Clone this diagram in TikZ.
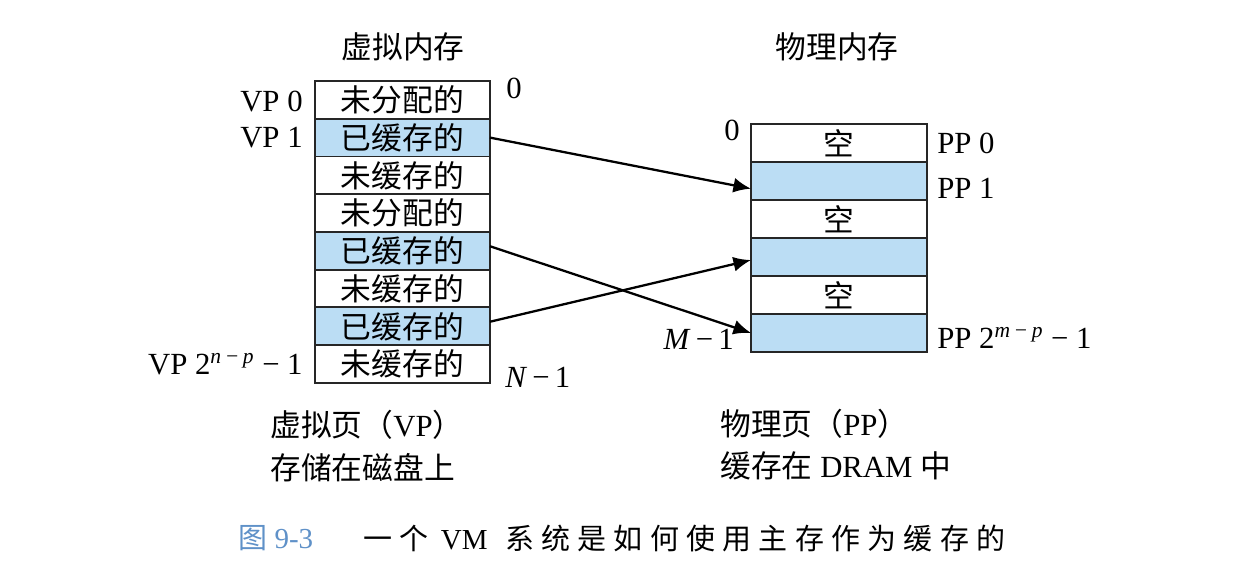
\documentclass[tikz,border=0pt]{standalone}
\usepackage{fontspec}
\setmainfont{Liberation Serif}
\newfontfamily\cjk{Noto Sans CJK SC}
\newfontfamily\cjkcap[LetterSpace=25]{Noto Sans CJK SC}
\usetikzlibrary{positioning,arrows.meta}
\definecolor{cachedblue}{RGB}{187,221,244}
\definecolor{figblue}{RGB}{95,145,200}

\begin{document}
\begin{tikzpicture}[x=0.02cm,y=-0.02cm,
		vpage/.style={draw=black!85,line width=1.1pt,outer sep=0pt,inner sep=0pt,minimum width=3.5cm,minimum height=0.755cm,font=\fontsize{17.5}{20}\selectfont\cjk},
		vcached/.style={vpage,fill=cachedblue},
		ppage/.style={vpage,minimum width=3.52cm,minimum height=0.76cm},
		pcached/.style={ppage,fill=cachedblue},
		lbl/.style={inner sep=0pt,font=\fontsize{17.5}{24}\selectfont},
		title/.style={lbl,font=\fontsize{17.5}{24}\selectfont\cjk},
		map/.style={-{Latex[length=10pt,width=8.5pt]},line width=1.3pt}]
			%%%%% START %%%%%
			\useasboundingbox (0,0) rectangle (1252,584);
			
			% virtual memory
			\node[title] (vtitle) at (403,47) {虚拟内存};
			\node[vpage,anchor=north west] (v0) at (315,81) {未分配的};
			\node[vcached,below=0pt of v0] (v1) {已缓存的};
			\node[vpage,below=0pt of v1] (v2) {未缓存的};
			\node[vpage,below=0pt of v2] (v3) {未分配的};
			\node[vcached,below=0pt of v3] (v4) {已缓存的};
			\node[vpage,below=0pt of v4] (v5) {未缓存的};
			\node[vcached,below=0pt of v5] (v6) {已缓存的};
			\node[vpage,below=0pt of v6] (v7) {未缓存的};
			
			\node[lbl,left=0.24cm of v0,yshift=-0.04cm] (vp0) {VP 0};
			\node[lbl,left=0.24cm of v1] (vp1) {VP 1};
			\node[lbl,left=0.24cm of v7] (vplast) {VP 2\textsuperscript{\itshape n\,−\,p} − 1};
			\node[lbl,right=0.32cm of v0.north east,yshift=-0.14cm] (vzero) {0};
			\node[lbl,right=0.3cm of v7.south east,yshift=0.12cm] (vlast) {\textit{N}\,−\,1};
			
			% physical memory
			\node[title] (ptitle) at (837,47) {物理内存};
			\node[ppage,anchor=north west] (p0) at (751,124) {空};
			\node[pcached,below=0pt of p0] (p1) {};
			\node[ppage,below=0pt of p1] (p2) {空};
			\node[pcached,below=0pt of p2] (p3) {};
			\node[ppage,below=0pt of p3] (p4) {空};
			\node[pcached,below=0pt of p4] (p5) {};
			
			\node[lbl,right=0.2cm of p0] (pp0) {PP 0};
			\node[lbl,right=0.2cm of p1,yshift=-0.14cm] (pp1) {PP 1};
			\node[lbl,right=0.2cm of p5,yshift=-0.1cm] (pplast) {PP 2\textsuperscript{\itshape m\,−\,p} − 1};
			\node[lbl,left=0.22cm of p0.north west,yshift=-0.12cm] (pzero) {0};
			\node[lbl,left=0.34cm of p5.south west,yshift=0.26cm] (plast) {\textit{M}\,−\,1};
			
			% mappings
			\draw[map] (v1.east) -- (p1.185);
			\draw[map] (v4.3) -- (p5.west);
			\draw[map] (v6.3) -- (p3.182);
			
			% notes
			\node[lbl,anchor=west,align=left] (vnote) at (270,446) {{\cjk 虚拟页（}VP{\cjk ）}\\{\cjk 存储在磁盘上}};
			\node[lbl,anchor=west,align=left] (pnote) at (720,445) {{\cjk 物理页（}PP{\cjk ）}\\{\cjk 缓存在} DRAM\ {\cjk 中}};
			
			% caption
			\node[inner sep=0pt,anchor=west,text=figblue,font=\fontsize{16.5}{18}\selectfont] (figno) at (238,538) {{\cjk 图} 9-3};
			\node[inner sep=0pt,anchor=west,font=\fontsize{16.5}{18}\selectfont] (caption) at (363,538) {{\cjkcap 一个}\hspace{7pt}VM\hspace{10pt}{\cjkcap 系统是如何使用主存作为缓存的}};
			%%%%% END %%%%%
\end{tikzpicture}
\end{document}
